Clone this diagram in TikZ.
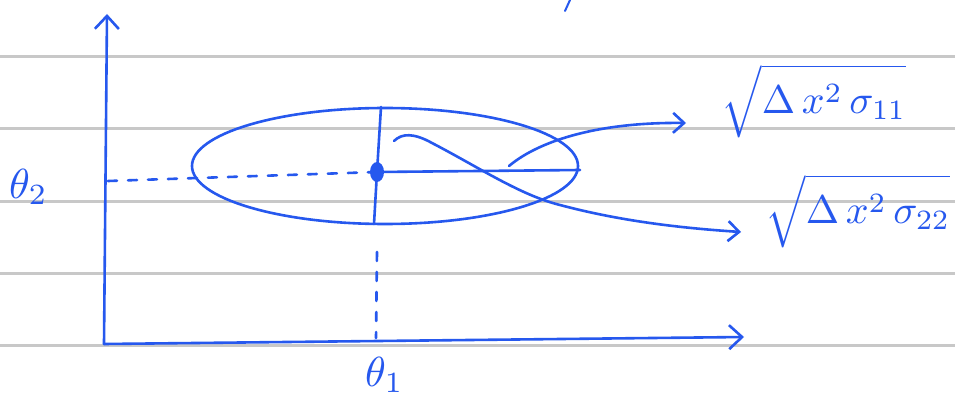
\documentclass[tikz,border=0pt]{standalone}
\usetikzlibrary{arrows.meta}
\definecolor{ink}{RGB}{38,88,238}
\definecolor{rule}{RGB}{200,200,200}
\tikzset{
  ruling/.style={draw=rule,line width=3pt},
  pen/.style={draw=ink,line width=2.6pt,line cap=round,line join=round},
  dashpen/.style={pen,dash pattern=on 9pt off 11pt},
  chev/.style={-{Straight Barb[length=13pt,width=24pt,line width=2.6pt]}},
  smallchev/.style={-{Straight Barb[length=11pt,width=20pt,line width=2.6pt]}},
  lab/.style={text=ink,inner sep=0pt}
}
\newcommand{\bigtxt}[1]{\scalebox{4}{#1}}
\newcommand{\thetatxt}[1]{\scalebox{4.2}{#1}}
\begin{document}
\begin{tikzpicture}[x=1pt,y=-1pt]
\useasboundingbox[fill=white] (0,0) rectangle (955,406);
% ruled paper
\foreach \yy in {57,129,201,273,345} \draw[ruling] (0,\yy) -- (955,\yy);
% coordinates
\coordinate (O) at (104,344);
\coordinate (ytop) at (107,14);
\coordinate (xend) at (744,337);
\coordinate (C) at (385,166);
\coordinate (dot) at (377,172);
\coordinate (vtop) at (381,107);
\coordinate (vbot) at (374,224);
\coordinate (mright) at (580,170);
\coordinate (dl) at (108,181);
\coordinate (dvtop) at (377,252);
\coordinate (dvbot) at (376,338);
\coordinate (a1s) at (509,166);
\coordinate (a1e) at (686,123);
\coordinate (a2s) at (394,141);
\coordinate (a2e) at (741,232);
% axes
\draw[pen,chev] (O) -- (ytop);
\draw[pen,chev] (O) -- (xend);
% ellipse
\draw[pen] (C) ellipse [x radius=193, y radius=58];
% axes of ellipse
\draw[pen] (vtop) -- (dot) -- (vbot);
\draw[pen] (dot) -- (mright);
\fill[ink] (dot) ellipse [x radius=7, y radius=10];
% dashed projections
\draw[dashpen] (dl) -- (dot);
\draw[dashpen] (dvtop) -- (dvbot);
% arrows to labels
\draw[pen,smallchev] (a1s) .. controls (540,140) and (600,122) .. (a1e);
\draw[pen,smallchev] (a2s) .. controls (402,133) and (414,133) .. (432,143)
   .. controls (480,168) and (520,195) .. (560,205)
   .. controls (620,221) and (680,228) .. (a2e);
% labels
\node[lab] (L1) at (814,101) {\bigtxt{$\sqrt{\vphantom{\big(}\Delta\,x^{2}\,\sigma_{11}}$}};
\node[lab] (L2) at (858,211) {\bigtxt{$\sqrt{\vphantom{\big(}\Delta\,x^{2}\,\sigma_{22}}$}};
\node[lab,anchor=base west] (T2) at (9,198) {\thetatxt{$\theta_{2}$}};
\node[lab,anchor=base west] (T1) at (365,386) {\thetatxt{$\theta_{1}$}};
% stray mark at top edge
\draw[pen,line width=2pt] (565,11) -- (570,0);
\end{tikzpicture}
\end{document}
